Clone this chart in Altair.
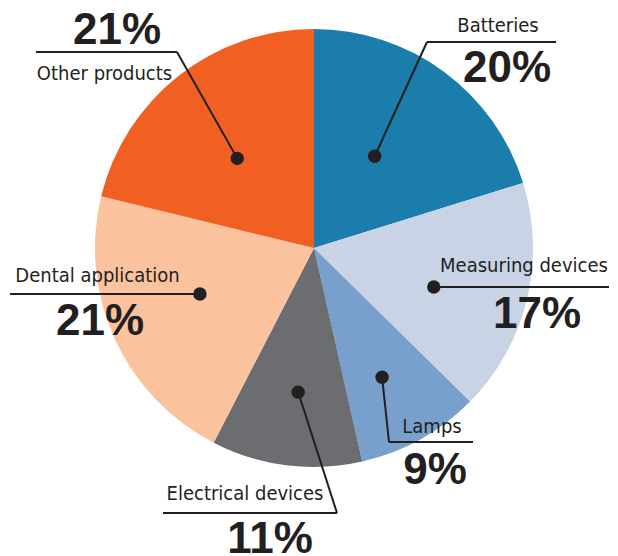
import math
import altair as alt
import pandas as pd

# ---- data ----
categories = ["Batteries", "Measuring devices", "Lamps", "Electrical devices",
              "Dental application", "Other products"]
shares = [20, 17, 9, 11, 21, 21]
pct_labels = ["20%", "17%", "9%", "11%", "21%", "21%"]
colors = ["#1a7dab", "#c8d4e6", "#79a0cc", "#6c6d70", "#fbc29e", "#f15f22"]

# ---- layout (plot-area pixels) ----
W, H = 602, 548
CX, CY, R = 306, 240, 219
dot_radius = [110, 126, 146, 145, 123, 118]
dot_nudge = [-2.9, 4.4, 1.3, -1.0, 2.6, -2.4]
elbow = [(419, 34), None, (381, 434), (329, 505), None, (169, 44)]
line_end_x = [548, 601, 465, 155, 2, 28]
name_pos = [(490, 24), (516, 264), (424, 425), (237, 492), (89.5, 274), (96.5, 72)]
pct_pos = [(499, 74), (529, 320), (427, 476), (262, 545), (92, 327), (109, 36)]

INK = "#231f20"
NAME_FONT = "DejaVu Sans Condensed, sans-serif"
PCT_FONT = "Liberation Sans, Arial, sans-serif"

total = sum(shares)
pie_df = pd.DataFrame({"category": categories, "share": shares,
                       "idx": list(range(len(categories)))})

dots, segs, names, pcts = [], [], [], []
cum = 0
for i, (cat, s) in enumerate(zip(categories, shares)):
    ang = math.radians((cum + s / 2) / total * 360 + dot_nudge[i])
    cum += s
    dx = CX + dot_radius[i] * math.sin(ang)
    dy = CY - dot_radius[i] * math.cos(ang)
    dots.append({"x": dx, "y": dy})
    if elbow[i] is not None:
        ex, ey = elbow[i]
        segs.append({"x": dx, "y": dy, "x2": ex, "y2": ey})
        segs.append({"x": ex, "y": ey, "x2": line_end_x[i], "y2": ey})
    else:
        segs.append({"x": dx, "y": dy, "x2": line_end_x[i], "y2": dy})
    names.append({"x": name_pos[i][0], "y": name_pos[i][1], "t": cat})
    pcts.append({"x": pct_pos[i][0], "y": pct_pos[i][1], "t": pct_labels[i]})

xs = alt.Scale(domain=[0, W], nice=False, zero=False)
ys = alt.Scale(domain=[0, H], nice=False, zero=False, reverse=True)

pie = alt.Chart(pie_df).mark_arc(radius=R).encode(
    theta=alt.Theta("share:Q", stack=True),
    color=alt.Color("category:N", scale=alt.Scale(domain=categories, range=colors), legend=None),
    order=alt.Order("idx:Q"),
    x=alt.value(CX),
    y=alt.value(CY),
)

rules = alt.Chart(pd.DataFrame(segs)).mark_rule(color=INK, strokeWidth=2).encode(
    x=alt.X("x:Q", scale=xs, axis=None),
    y=alt.Y("y:Q", scale=ys, axis=None),
    x2="x2:Q",
    y2="y2:Q",
)

points = alt.Chart(pd.DataFrame(dots)).mark_circle(color=INK, size=180, opacity=1).encode(
    x=alt.X("x:Q", scale=xs, axis=None),
    y=alt.Y("y:Q", scale=ys, axis=None),
)

name_text = alt.Chart(pd.DataFrame(names)).mark_text(
    font=NAME_FONT, fontSize=20, color=INK, align="center", baseline="alphabetic"
).encode(
    x=alt.X("x:Q", scale=xs, axis=None),
    y=alt.Y("y:Q", scale=ys, axis=None),
    text="t:N",
)

pct_text = alt.Chart(pd.DataFrame(pcts)).mark_text(
    font=PCT_FONT, fontSize=44, fontWeight="bold", color=INK, align="center", baseline="alphabetic"
).encode(
    x=alt.X("x:Q", scale=xs, axis=None),
    y=alt.Y("y:Q", scale=ys, axis=None),
    text="t:N",
)

chart = alt.layer(pie, rules, points, name_text, pct_text).properties(
    width=W, height=H, autosize=alt.AutoSizeParams(type="none"), padding=0
).configure_view(stroke=None)

chart.save("out.html", embed_options={"renderer": "svg", "actions": False})
